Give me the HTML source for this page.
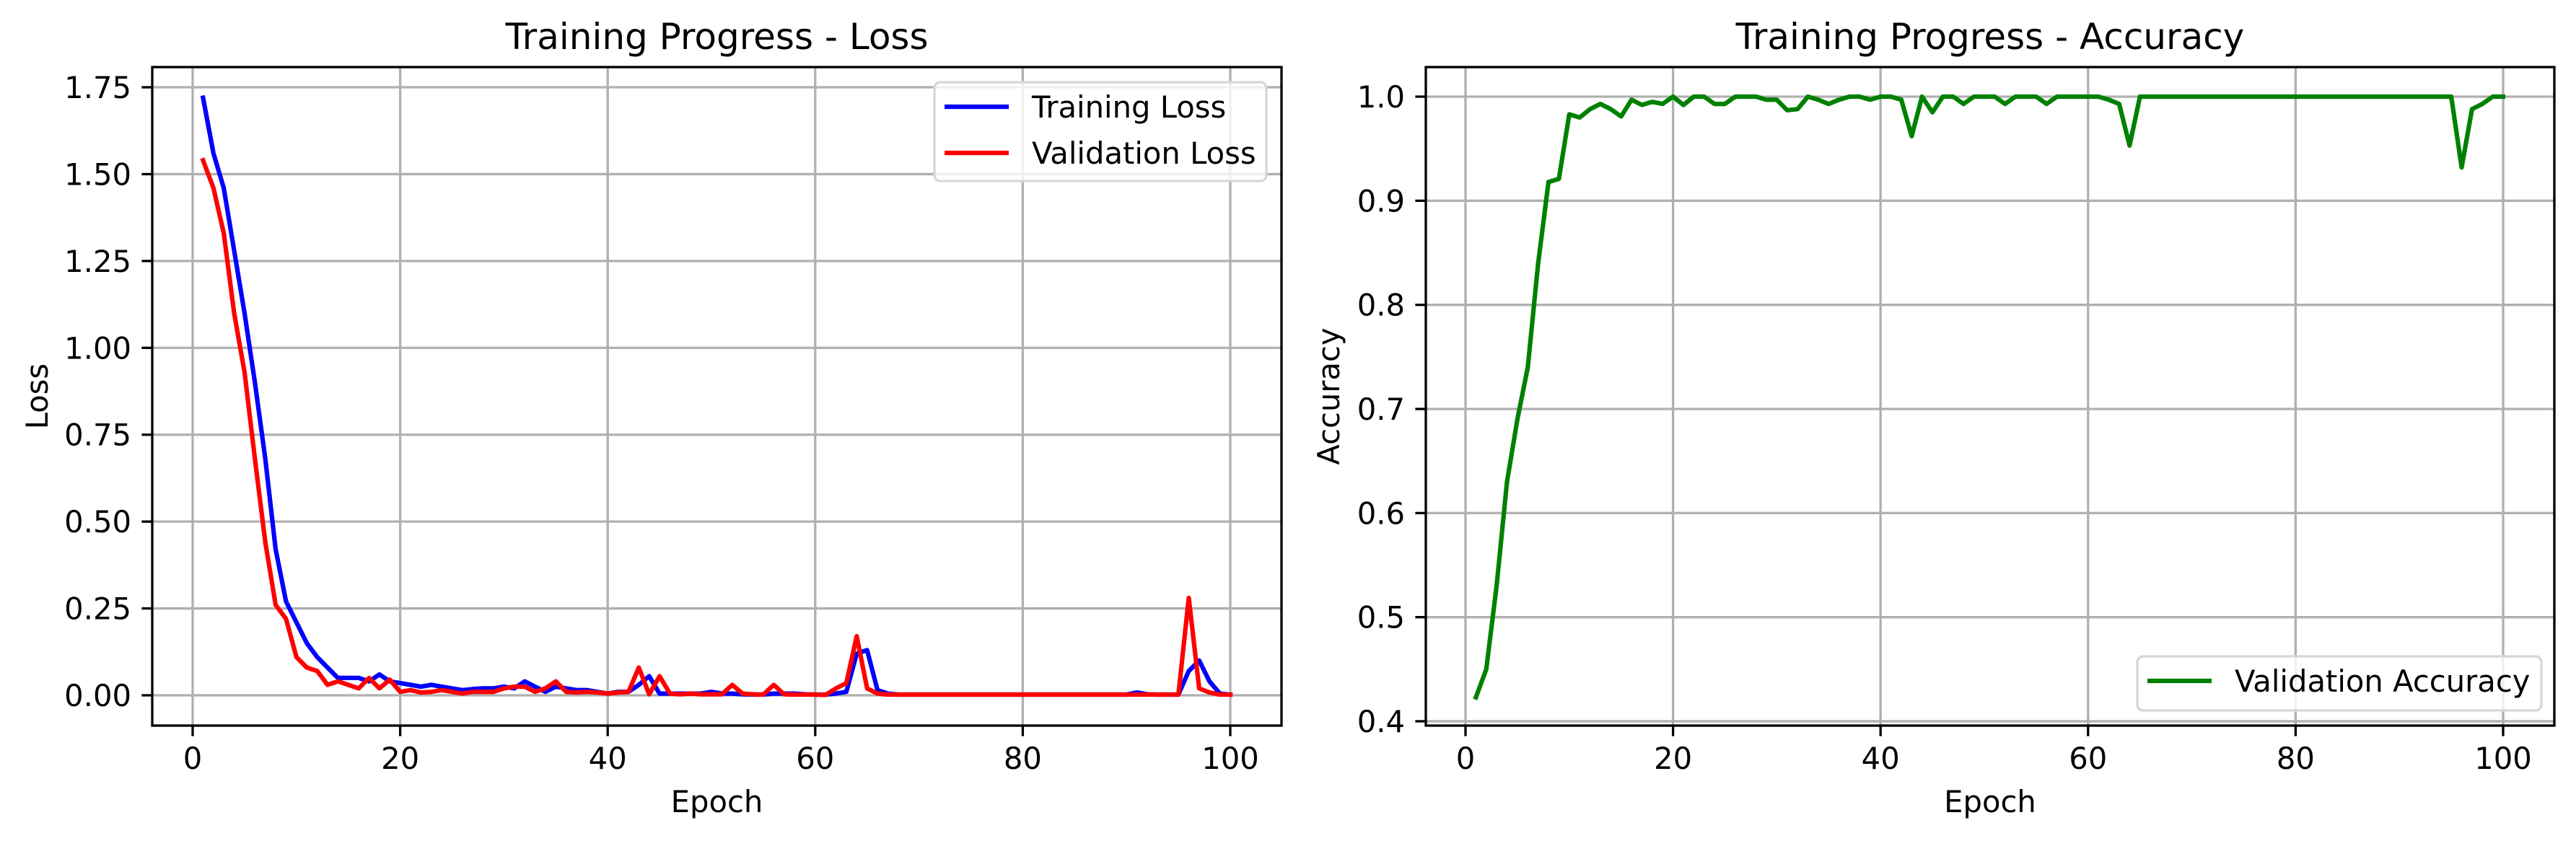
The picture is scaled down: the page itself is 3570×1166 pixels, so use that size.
<!DOCTYPE html>
<html><head><meta charset="utf-8"><style>
html,body{margin:0;padding:0;background:#fff}
svg{display:block}
text{font-family:"DejaVu Sans","Liberation Sans",sans-serif;fill:#000}
</style></head><body>
<svg id="fig" width="3570" height="1166" viewBox="0 0 3570 1166" xmlns="http://www.w3.org/2000/svg"></svg>
<script>
const epochs = Array.from({length:100},(_,i)=>i+1);
const trainLoss = [1.72,1.56,1.46,1.28,1.10,0.90,0.68,0.42,0.27,0.21,0.15,0.11,0.08,0.05,0.05,0.05,0.04,0.06,0.04,0.035,0.03,0.025,0.03,0.025,0.02,0.015,0.018,0.02,0.02,0.025,0.02,0.04,0.025,0.01,0.025,0.02,0.015,0.015,0.01,0.005,0.01,0.01,0.03,0.055,0.005,0.005,0.005,0.005,0.005,0.01,0.005,0.005,0.003,0.002,0.002,0.005,0.005,0.005,0.003,0.002,0.002,0.005,0.01,0.12,0.13,0.015,0.005,0.002,0.002,0.002,0.002,0.002,0.002,0.002,0.002,0.002,0.002,0.002,0.002,0.002,0.002,0.002,0.002,0.002,0.002,0.002,0.002,0.002,0.002,0.002,0.008,0.003,0.002,0.002,0.002,0.07,0.10,0.04,0.005,0.002];
const valLoss = [1.54,1.46,1.33,1.10,0.93,0.68,0.44,0.26,0.22,0.11,0.08,0.07,0.03,0.04,0.03,0.02,0.05,0.02,0.045,0.01,0.015,0.008,0.01,0.015,0.01,0.005,0.01,0.01,0.01,0.02,0.025,0.025,0.01,0.02,0.04,0.01,0.008,0.01,0.008,0.005,0.008,0.01,0.08,0.003,0.055,0.005,0.003,0.005,0.003,0.003,0.003,0.03,0.005,0.003,0.002,0.03,0.003,0.002,0.002,0.002,0.001,0.02,0.035,0.17,0.02,0.005,0.002,0.002,0.002,0.002,0.002,0.002,0.002,0.002,0.002,0.002,0.002,0.002,0.002,0.002,0.002,0.002,0.002,0.002,0.002,0.002,0.002,0.002,0.002,0.002,0.002,0.002,0.002,0.002,0.002,0.28,0.02,0.008,0.002,0.002];
const valAcc = [0.423,0.45,0.53,0.63,0.69,0.74,0.84,0.918,0.921,0.983,0.98,0.988,0.993,0.988,0.981,0.997,0.992,0.995,0.993,1.0,0.992,1.0,1.0,0.993,0.993,1.0,1.0,1.0,0.997,0.997,0.987,0.988,1.0,0.997,0.993,0.997,1.0,1.0,0.997,1.0,1.0,0.997,0.962,1.0,0.985,1.0,1.0,0.993,1.0,1.0,1.0,0.993,1.0,1.0,1.0,0.993,1.0,1.0,1.0,1.0,1.0,0.997,0.993,0.953,1.0,1.0,1.0,1.0,1.0,1.0,1.0,1.0,1.0,1.0,1.0,1.0,1.0,1.0,1.0,1.0,1.0,1.0,1.0,1.0,1.0,1.0,1.0,1.0,1.0,1.0,1.0,1.0,1.0,1.0,1.0,0.932,0.988,0.993,1.0,1.0];
const xTicks = [0,20,40,60,80,100];
const lossTicks = [0,0.25,0.5,0.75,1.0,1.25,1.5,1.75];
const lossTickLabels = ["0.00","0.25","0.50","0.75","1.00","1.25","1.50","1.75"];
const accTicks = [0.4,0.5,0.6,0.7,0.8,0.9,1.0];
const accTickLabels = ["0.4","0.5","0.6","0.7","0.8","0.9","1.0"];

const NS="http://www.w3.org/2000/svg";
const svg=document.getElementById('fig');
function mk(tag,attrs,parent){const e=document.createElementNS(NS,tag);for(const k in attrs)e.setAttribute(k,attrs[k]);(parent||svg).appendChild(e);return e;}

function panel(o){
  const g=mk('g',{});
  
  
  const sx=v=>o.x0px+(v-0)*(o.x100px-o.x0px)/100;
  const sy=v=>o.yA+(v-o.vA)*(o.yB-o.yA)/(o.vB-o.vA);
  // grid
  xTicks.forEach(t=>{
    const l=mk('line',{x1:sx(t),x2:sx(t),y1:o.top,y2:o.bottom,stroke:'#b0b0b0','stroke-width':3.3},g);
    
    
  });
  o.yTicks.forEach(t=>{
    const l=mk('line',{x1:o.left,x2:o.right,y1:sy(t),y2:sy(t),stroke:'#b0b0b0','stroke-width':3.3},g);
    
    
  });
  // series
  o.series.forEach(s=>{
    const d=s.data.map((v,i)=>(i?'L':'M')+sx(epochs[i]).toFixed(1)+','+sy(v).toFixed(1)).join('');
    const p=mk('path',{d:d,fill:'none',stroke:s.color,'stroke-width':6.25,'stroke-linejoin':'round','stroke-linecap':'square'},g);
    
    
  });
  // spines
  const r=mk('rect',{x:o.left,y:o.top,width:o.right-o.left,height:o.bottom-o.top,fill:'none',stroke:'#000','stroke-width':3.3},g);
  
  
  // ticks
  xTicks.forEach(t=>{
    mk('line',{x1:sx(t),x2:sx(t),y1:o.bottom,y2:o.bottom+14.6,stroke:'#000','stroke-width':3.3},g);
    const tx=mk('text',{x:sx(t),y:o.bottom+60,'font-size':41.7,'text-anchor':'middle'},g);
    tx.textContent=String(t);
    
    
  });
  o.yTicks.forEach((t,i)=>{
    mk('line',{x1:o.left-14.6,x2:o.left,y1:sy(t),y2:sy(t),stroke:'#000','stroke-width':3.3},g);
    const tx=mk('text',{x:o.left-29,y:sy(t)+15,'font-size':41.7,'text-anchor':'end'},g);
    tx.textContent=o.yLabels[i];
    
    
  });
  const cx=(o.left+o.right)/2;
  const ti=mk('text',{x:cx,y:68,'font-size':50,'text-anchor':'middle'},g);
  ti.textContent=o.title;
  
  
  const xl=mk('text',{x:cx,y:1126,'font-size':41.7,'text-anchor':'middle'},g);
  xl.textContent='Epoch';
  
  
  const ym=(o.top+o.bottom)/2;
  const yl=mk('text',{x:o.ylabX,y:ym,'font-size':41.7,'text-anchor':'middle',transform:`rotate(-90 ${o.ylabX} ${ym})`},g);
  yl.textContent=o.ylabel;
  
  
  // legend
  const L=o.legend;
  const lg=mk('g',{},g);
  
  
  mk('rect',{x:L.x,y:L.y,width:L.w,height:L.h,rx:8,fill:'rgba(255,255,255,0.8)',stroke:'#d6d6d6','stroke-width':3.3},lg);
  o.series.forEach((s,i)=>{
    const yy=L.y+L.first+i*64;
    const ln=mk('line',{x1:L.x+14,x2:L.x+103,y1:yy,y2:yy,stroke:s.color,'stroke-width':6.25},lg);
    
    
    const tx=mk('text',{x:L.x+L.tx,y:yy+15,'font-size':41.7},lg);
    tx.textContent=s.label;
    
    
  });
}

panel({name:'loss-chart',left:211,right:1776,top:93,bottom:1006,x0px:267,x100px:1705,
  yA:964,vA:0,yB:121,vB:1.75,yTicks:lossTicks,yLabels:lossTickLabels,
  title:'Training Progress - Loss',ylabel:'Loss',ylabX:66,
  series:[{name:'training-loss-line',label:'Training Loss',color:'#0000ff',data:trainLoss},
          {name:'validation-loss-line',label:'Validation Loss',color:'#ff0000',data:valLoss}],
  legend:{x:1295,y:114,w:460,h:137,first:34,tx:135}});
panel({name:'accuracy-chart',left:1976,right:3540,top:93,bottom:1006,x0px:2031,x100px:3469,
  yA:1000,vA:0.4,yB:134,vB:1.0,yTicks:accTicks,yLabels:accTickLabels,
  title:'Training Progress - Accuracy',ylabel:'Accuracy',ylabX:1856,
  series:[{name:'validation-accuracy-line',label:'Validation Accuracy',color:'#008000',data:valAcc}],
  legend:{x:2962,y:910,w:560,h:75,first:34,tx:135}});
</script>
</body></html>
